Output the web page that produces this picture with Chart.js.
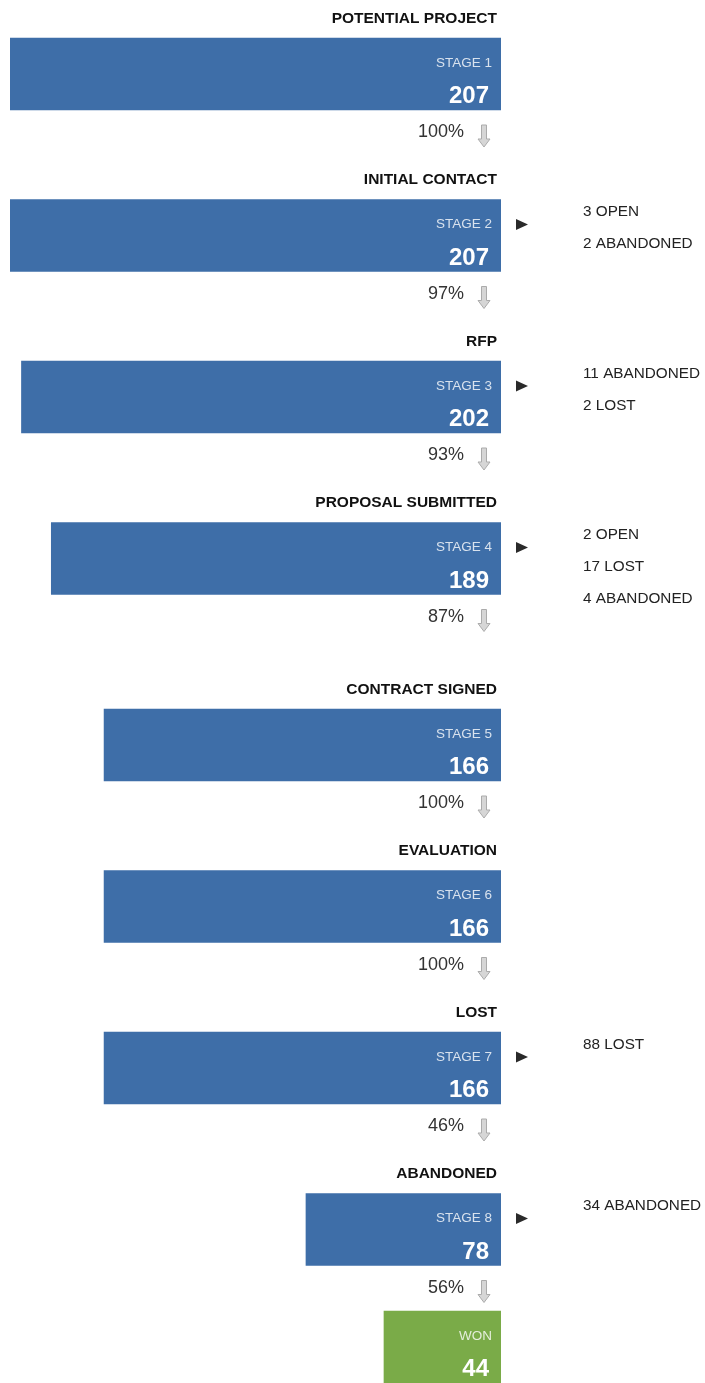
<!DOCTYPE html>
<html lang="en">
<head>
  <meta charset="UTF-8">
  <title>Pipeline Funnel</title>
  <script src="https://cdn.jsdelivr.net/npm/chart.js"></script>
  <style>
    body { margin: 0; background: #fff; }
    canvas { display: block; }
  </style>
</head>
<body>
  <canvas id="funnelChart" width="705" height="1383"></canvas>

  <script>
    // funnel data, top to bottom
    const stageNames = ['POTENTIAL PROJECT', 'INITIAL CONTACT', 'RFP', 'PROPOSAL SUBMITTED',
      'CONTRACT SIGNED', 'EVALUATION', 'LOST', 'ABANDONED', ''];
    const stageLabels = ['STAGE 1', 'STAGE 2', 'STAGE 3', 'STAGE 4', 'STAGE 5', 'STAGE 6', 'STAGE 7', 'STAGE 8', 'WON'];
    const counts = [207, 207, 202, 189, 166, 166, 166, 78, 44];
    const conversion = [100, 97, 93, 87, 100, 100, 46, 56, null];
    const outcomes = [
      [],
      ['3 OPEN', '2 ABANDONED'],
      ['11 ABANDONED', '2 LOST'],
      ['2 OPEN', '17 LOST', '4 ABANDONED'],
      [],
      [],
      ['88 LOST'],
      ['34 ABANDONED'],
      []
    ];

    const BLUE = '#3e6ea8';
    const GREEN = '#7aab48';
    const MIN_STUB = 7;     // every bar keeps a short stub on the right

    // row layout: title, bar, percent; long outcome lists push the next row down
    const ROW_H = 161.5, TITLE_H = 44, BAR_H = 72;
    const centers = [];
    let rowTop = 0;
    stageNames.forEach((name, i) => {
      const barTop = rowTop + (name ? TITLE_H : 0) - 6;
      centers.push(barTop + BAR_H / 2);
      rowTop += ROW_H + Math.max(0, outcomes[i].length - 2) * 25;
    });

    const font = (size, weight) => `${weight || 'normal'} ${size}px "Liberation Sans", Arial, sans-serif`;

    function drawArrow(ctx, cx, y0, y1) {
      ctx.save();
      ctx.fillStyle = '#d6d6d6';
      ctx.strokeStyle = '#ababab';
      ctx.lineWidth = 1;
      ctx.beginPath();
      ctx.moveTo(cx - 2.5, y0);
      ctx.lineTo(cx + 2.5, y0);
      ctx.lineTo(cx + 2.5, y1 - 8);
      ctx.lineTo(cx + 6, y1 - 8);
      ctx.lineTo(cx, y1);
      ctx.lineTo(cx - 6, y1 - 8);
      ctx.lineTo(cx - 2.5, y1 - 8);
      ctx.closePath();
      ctx.fill();
      ctx.stroke();
      ctx.restore();
    }

    const funnelText = {
      id: 'funnelText',
      afterDatasetsDraw(chart) {
        const ctx = chart.ctx;
        const bars = chart.getDatasetMeta(0).data;
        ctx.save();
        ctx.textBaseline = 'middle';
        bars.forEach((bar, i) => {
          const right = bar.base;
          const barTop = bar.y - bar.height / 2;
          const barBottom = bar.y + bar.height / 2;

          ctx.textAlign = 'right';
          if (stageNames[i]) {
            ctx.fillStyle = '#111';
            ctx.font = font(15.5, 'bold');
            ctx.fillText(stageNames[i], right - 4, barTop - 19.5);
          }
          ctx.fillStyle = 'rgba(255,255,255,0.8)';
          ctx.font = font(13.5);
          ctx.fillText(stageLabels[i], right - 9, barTop + 25);
          ctx.fillStyle = '#fff';
          ctx.font = font(24, 'bold');
          ctx.fillText(counts[i], right - 12, barTop + 58.5);

          if (conversion[i] !== null) {
            ctx.fillStyle = '#333';
            ctx.font = font(18);
            ctx.fillText(conversion[i] + '%', right - 37, barBottom + 22.5);
            drawArrow(ctx, right - 17, barBottom + 15, barBottom + 37);
          }

          if (outcomes[i].length) {
            const ty = barTop + 25;
            ctx.fillStyle = '#2a2a2a';
            ctx.beginPath();
            ctx.moveTo(right + 15, ty - 5.5);
            ctx.lineTo(right + 27, ty);
            ctx.lineTo(right + 15, ty + 5.5);
            ctx.closePath();
            ctx.fill();

            ctx.textAlign = 'left';
            ctx.fillStyle = '#222';
            ctx.font = font(15.3);
            outcomes[i].forEach((t, k) => ctx.fillText(t, right + 82, barTop + 12.5 + k * 32));
          }
        });
        ctx.restore();
      }
    };

    new Chart(document.getElementById('funnelChart'), {
      type: 'bar',
      data: {
        datasets: [{
          data: counts.map((v, i) => ({ x: v, y: centers[i] })),
          base: -MIN_STUB,
          backgroundColor: stageLabels.map(l => l === 'WON' ? GREEN : BLUE),
          barThickness: BAR_H,
          borderWidth: 0
        }]
      },
      options: {
        indexAxis: 'y',
        responsive: false,
        animation: false,
        layout: { padding: { left: 10, right: 204, top: 0, bottom: 0 } },
        scales: {
          x: { type: 'linear', reverse: true, min: -MIN_STUB, max: 207, display: false },
          y: { type: 'linear', reverse: true, offset: false, min: 0, max: 1383, display: false }
        },
        plugins: {
          legend: { display: false },
          tooltip: { enabled: false }
        }
      },
      plugins: [funnelText]
    });
  </script>
</body>
</html>
